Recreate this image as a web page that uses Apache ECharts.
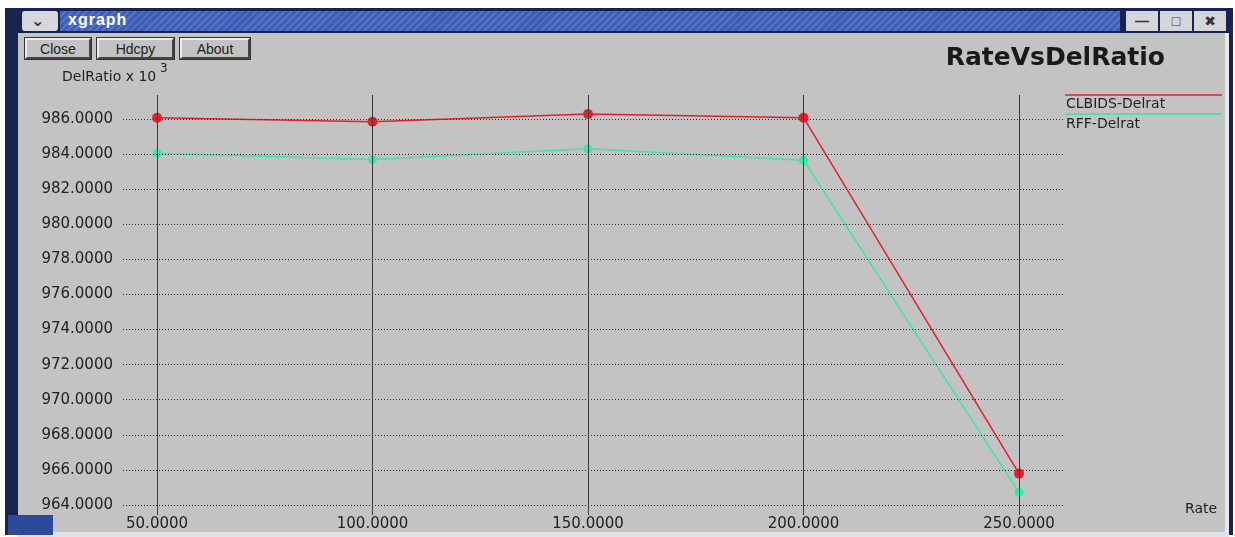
<!DOCTYPE html>
<html><head><meta charset="utf-8">
<script src="https://cdn.jsdelivr.net/npm/echarts@6/dist/echarts.min.js"></script>
<style>
html,body{margin:0;padding:0;background:#fff;width:1235px;height:537px;overflow:hidden;font-family:"Liberation Sans","DejaVu Sans",sans-serif;}
#frame{position:absolute;left:5px;top:8px;width:1228px;height:527px;background:#18234f;}
#menu{position:absolute;left:22px;top:11px;width:36px;height:20px;background:#d8d8dc;border-radius:3px;}
#menu span{position:absolute;left:9px;top:0px;font-size:16px;font-weight:bold;color:#333;}
#tbar{position:absolute;left:60px;top:11px;width:1060px;height:20px;background:repeating-linear-gradient(135deg,#3d5fb8 0px,#3d5fb8 3px,#5572c4 3px,#5572c4 5px);}
#tbar span{position:absolute;left:8px;top:0px;font-size:16px;font-weight:bold;color:#fff;letter-spacing:1px;}
.wb{position:absolute;top:11px;width:32px;height:20px;background:#d6d6da;color:#333;font-weight:bold;text-align:center;font-size:14px;line-height:20px;}
#content{position:absolute;left:18px;top:33px;width:1207px;height:499px;background:#c3c3c3;}
#rb{position:absolute;left:1225px;top:33px;width:4px;height:499px;background:#e8e8f0;}
#bb{position:absolute;left:18px;top:532px;width:1211px;height:5px;background:#dfe3ea;}
#blk{position:absolute;left:8px;top:515px;width:45px;height:20px;background:#2b4a9a;}
.btn{position:absolute;top:38px;height:21px;border:2px solid #444;border-top-color:#eee;border-left-color:#eee;background:#c3c3c3;font-size:14px;line-height:18px;text-align:center;color:#222;box-sizing:border-box;outline:1px solid #333;}
#chart{position:absolute;left:0;top:0;width:1235px;height:537px;}
</style></head>
<body>
<div id="frame"></div>
<div id="menu"><span>&#8964;</span></div>
<div id="tbar"><span>xgraph</span></div>
<div class="wb" style="left:1126px">&#8212;</div>
<div class="wb" style="left:1160px">&#9633;</div>
<div class="wb" style="left:1194px">&#10006;</div>
<div id="content"></div>
<div id="rb"></div>
<div id="bb"></div>
<div id="blk"></div>
<div class="btn" style="left:25px;width:66px">Close</div>
<div class="btn" style="left:97px;width:77px">Hdcpy</div>
<div class="btn" style="left:180px;width:70px">About</div>
<div id="chart"></div>
<script>
// ---- data ----
const rates = [50, 100, 150, 200, 250];
const clbidsDelrat = [986.07, 985.85, 986.28, 986.08, 965.79];
const rffDelrat = [984.05, 983.7, 984.3, 983.65, 964.71];
const xTicks = [50, 100, 150, 200, 250];
const yTicks = [964, 966, 968, 970, 972, 974, 976, 978, 980, 982, 984, 986];
const seriesNames = ['CLBIDS-Delrat', 'RFF-Delrat'];
const titleText = 'RateVsDelRatio';

const RED = '#e3202c', GREEN = '#3de6a2';
const lblFont = {fontFamily: 'DejaVu Sans', fontSize: 15, color: '#222'};

const chart = echarts.init(document.getElementById('chart'), null, {renderer: 'canvas'});
chart.setOption({
  animation: false,
  backgroundColor: 'transparent',
  title: {text: titleText, right: 70, top: 46, padding: 0,
    textStyle: {fontFamily: 'DejaVu Sans', fontSize: 25, fontWeight: 'bold', color: '#1a1a1a'}},
  legend: {orient: 'vertical', left: 1061, top: 97, padding: 0, itemGap: 6, itemWidth: 0, itemHeight: 0,
    icon: 'rect', data: seriesNames,
    textStyle: {fontFamily: 'DejaVu Sans', fontSize: 14, color: '#222'}},
  grid: {left: 123, right: 172, top: 95, bottom: 22, containLabel: false},
  xAxis: {type: 'value', min: 42.1, max: 260.2,
    name: 'Rate', nameLocation: 'end', nameGap: 122,
    nameTextStyle: {fontFamily: 'DejaVu Sans', fontSize: 14, color: '#222', verticalAlign: 'bottom', align: 'left', padding: [0, 0, -1, 0]},
    axisLine: {show: false},
    axisTick: {show: false, customValues: xTicks},
    axisLabel: {customValues: xTicks, formatter: v => v.toFixed(4), margin: 2, ...lblFont},
    splitLine: {show: false}},
  yAxis: {type: 'value', min: 963.43, max: 987.37,
    axisLine: {show: false},
    axisTick: {show: false, customValues: yTicks},
    axisLabel: {customValues: yTicks, formatter: v => v.toFixed(4), margin: 10, ...lblFont},
    splitLine: {show: false}},
  graphic: [
    {type: 'line', shape: {x1: 1065, y1: 95, x2: 1222, y2: 95}, style: {stroke: RED, lineWidth: 1.5}},
    {type: 'line', shape: {x1: 1065, y1: 114, x2: 1222, y2: 114}, style: {stroke: GREEN, lineWidth: 1.5}},
    {type: 'text', left: 62, top: 70, style: {text: 'DelRatio x 10', font: '14px "DejaVu Sans"', fill: '#222'}},
    {type: 'text', left: 160, top: 63, style: {text: '3', font: '12px "DejaVu Sans"', fill: '#222'}}
  ],
  series: [
    {name: seriesNames[0], type: 'line', data: rates.map((r, i) => [r, clbidsDelrat[i]]),
      symbol: 'circle', symbolSize: 10, itemStyle: {color: RED}, lineStyle: {color: RED, width: 1.5}, z: 4,
      markLine: {silent: true, symbol: 'none', label: {show: false},
        lineStyle: {color: '#333', type: [1, 2], width: 1},
        data: yTicks.map(v => ({yAxis: v}))}},
    {name: seriesNames[1], type: 'line', data: rates.map((r, i) => [r, rffDelrat[i]]),
      symbol: 'circle', symbolSize: 9, itemStyle: {color: GREEN}, lineStyle: {color: GREEN, width: 1.5}, z: 3,
      markLine: {silent: true, symbol: 'none', label: {show: false},
        lineStyle: {color: '#3a3a3a', type: 'solid', width: 1},
        data: xTicks.map(v => ({xAxis: v}))}}
  ]
});
</script>
</body></html>
